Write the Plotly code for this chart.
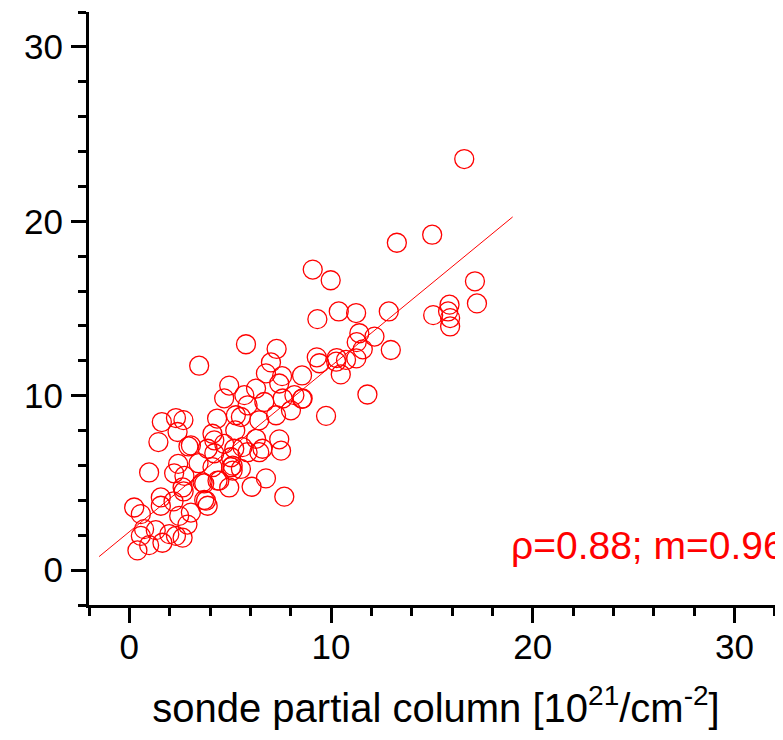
import plotly.graph_objects as go

# sonde partial column (x) vs retrieved partial column (y)
sonde = [
    0.98, 2.22, 3.71, 4.37, 1.56, 0.24, 0.57, 2.19, 2.69, 3.71,
    3.05, 1.56, 2.47, 2.88, 1.31, 2.31, 2.64, 0.57, 0.98, 0.40,
    1.64, 1.98, 0.73, 1.44, 1.61, 2.39, 2.31, 2.68, 2.93, 2.42,
    2.73, 3.43, 4.35, 4.95, 4.70, 3.46, 5.25, 5.53, 5.86, 4.12,
    4.21, 3.05, 3.88, 4.21, 5.04, 5.20, 4.12, 3.63, 4.46, 2.64,
    5.12, 4.95, 5.12, 5.78, 7.30, 7.02, 9.29, 9.42, 10.25, 10.48,
    8.56, 6.77, 7.57, 7.43, 6.28, 5.70, 6.69, 7.60, 8.18, 8.59,
    6.44, 5.28, 7.27, 8.01, 9.75, 6.28, 7.43, 4.70, 5.61, 6.60,
    7.52, 5.86, 6.44, 5.04, 5.53, 6.77, 6.06, 7.68, 3.80, 3.88,
    16.60, 13.26, 15.01, 9.09, 9.98, 17.13, 17.23, 15.87, 15.80, 15.90,
    15.90, 15.06, 9.32, 10.38, 11.24, 12.86, 11.40, 11.27, 12.15, 11.57,
    12.96, 11.25, 10.28, 10.74, 11.80, 8.56,
]
retrieved = [
    5.60, 5.55, 4.97, 5.13, 4.17, 3.59, 3.21, 3.94, 4.51, 4.02,
    3.30, 3.69, 3.11, 2.61, 2.29, 1.96, 1.86, 1.96, 1.43, 1.13,
    1.57, 2.06, 2.35, 7.34, 8.49, 7.92, 8.72, 8.60, 7.09, 6.09,
    5.40, 6.13, 8.69, 10.58, 9.85, 11.72, 8.01, 8.78, 9.45, 7.82,
    7.44, 7.15, 6.96, 6.70, 6.47, 6.96, 5.90, 5.03, 5.13, 4.74,
    5.71, 4.74, 5.99, 12.95, 12.68, 11.91, 12.20, 11.86, 11.95, 11.22,
    11.16, 11.28, 11.12, 10.70, 10.41, 10.03, 9.64, 9.84, 10.03, 9.84,
    8.59, 8.88, 8.88, 9.16, 8.84, 7.53, 7.50, 7.24, 7.05, 6.96,
    6.85, 6.76, 6.76, 5.90, 5.80, 5.26, 4.78, 4.21, 3.98, 3.69,
    23.57, 18.77, 19.23, 17.23, 16.62, 16.56, 15.29, 15.22, 14.83, 14.45,
    13.97, 14.62, 14.39, 14.83, 14.74, 14.83, 13.58, 13.07, 13.39, 12.66,
    12.62, 12.14, 12.16, 12.05, 10.07, 9.82,
]

# linear fit line
fit_x = [-1.5, 19.0]
fit_slope = 0.95
fit_intercept = 2.2
fit_y = [fit_intercept + fit_slope * v for v in fit_x]

stat_text = "ρ=0.88; m=0.96"
x_title = "sonde partial column [10<sup>21</sup>/cm<sup>-2</sup>]"
x_ticks = [0, 10, 20, 30]
y_ticks = [0, 10, 20, 30]

RED = "#ff0000"
FONT = "Arial, Liberation Sans, sans-serif"

fig = go.Figure()
fig.add_trace(go.Scatter(
    x=sonde, y=retrieved, mode="markers",
    marker=dict(symbol="circle-open", size=19, color=RED, line=dict(width=1.3, color=RED)),
    showlegend=False, cliponaxis=False,
))
fig.add_trace(go.Scatter(
    x=fit_x, y=fit_y, mode="lines",
    line=dict(color=RED, width=1), showlegend=False,
))

fig.add_annotation(
    x=18.8, y=1.4, xref="x", yref="y", text=stat_text, showarrow=False,
    xanchor="left", yanchor="middle",
    font=dict(family=FONT, size=39, color=RED),
)

axis_common = dict(
    showline=True, linecolor="black", linewidth=3, mirror=False,
    showgrid=False, zeroline=False,
    ticks="outside", ticklen=15, tickwidth=3, tickcolor="black",
    tickfont=dict(family=FONT, size=35, color="black"),
    minor=dict(dtick=2, tick0=0, ticks="outside", ticklen=8, tickwidth=3, tickcolor="black", showgrid=False),
)

fig.update_xaxes(
    range=[-2, 32.4], tickvals=x_ticks, ticktext=[str(v) for v in x_ticks],
    title=dict(text=x_title, font=dict(family=FONT, size=40, color="black"), standoff=29),
    ticklabelstandoff=-6,
    **axis_common,
)
fig.update_yaxes(
    range=[-2, 32], tickvals=y_ticks, ticktext=[str(v) for v in y_ticks],
    ticklabelstandoff=1,
    **axis_common,
)

# page body adds an 8px offset; compensate so the plot area lands where the reference has it
fig.update_layout(
    width=775, height=732,
    margin=dict(l=81, r=0, t=4, b=135, autoexpand=False),
    paper_bgcolor="white", plot_bgcolor="white",
    font=dict(family=FONT),
)

fig.write_html("out.html")
